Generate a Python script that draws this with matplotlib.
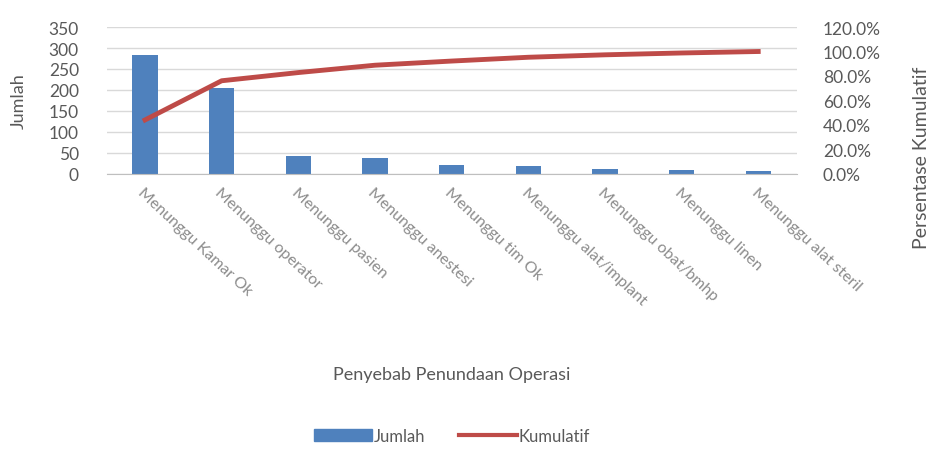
import matplotlib.pyplot as plt
from matplotlib.ticker import FuncFormatter
from matplotlib.patches import Patch
from matplotlib.lines import Line2D

plt.rcParams['font.family'] = ['Lato', 'DejaVu Sans']

categories = ["Menunggu Kamar Ok", "Menunggu operator", "Menunggu pasien",
              "Menunggu anestesi", "Menunggu tim Ok", "Menunggu alat/implant",
              "Menunggu obat/bmhp", "Menunggu linen", "Menunggu alat steril"]
jumlah = [283, 205, 43, 38, 22, 20, 12, 10, 8]
kumulatif = [44.1, 76.1, 82.8, 88.8, 92.2, 95.3, 97.3, 98.8, 100.0]

bar_color = "#4F81BD"
line_color = "#BE4B48"
grey = "#595959"

fig = plt.figure(figsize=(9.36, 4.52), dpi=100)
ax = fig.add_axes([0.114, 0.613, 0.737, 0.325])
x = range(len(categories))
ax.bar(x, jumlah, width=0.33, color=bar_color, zorder=2)
ax.set_xlim(-0.5, len(categories) - 0.5)
ax.set_ylim(0, 350)
ax.set_yticks(range(0, 351, 50))
ax.grid(axis="y", color="#D9D9D9", linewidth=1, zorder=0)
for s in ["top", "right", "left"]:
    ax.spines[s].set_visible(False)
ax.spines["bottom"].set_color("#BFBFBF")
ax.tick_params(axis="both", length=0, colors=grey, labelsize=12.5)
ax.tick_params(axis="y", pad=20)
ax.set_xticks(list(x))
ax.set_xticklabels(categories, rotation=-43, ha="left", va="top",
                   rotation_mode="anchor", fontsize=11.5, color="#8C8C8C")
ax.tick_params(axis="x", pad=8)
ax.set_ylabel("Jumlah", fontsize=13, color=grey, labelpad=16)
ax.set_xlabel("Penyebab Penundaan Operasi", fontsize=13, color=grey, labelpad=42)

ax2 = ax.twinx()
ax2.plot(list(x), kumulatif, color=line_color, linewidth=3.5, zorder=3)
ax2.set_ylim(0, 120)
ax2.set_yticks(range(0, 121, 20))
ax2.yaxis.set_major_formatter(FuncFormatter(lambda v, p: f"{v:.1f}%"))
for s in ["top", "right", "left", "bottom"]:
    ax2.spines[s].set_visible(False)
ax2.tick_params(axis="y", length=0, colors=grey, labelsize=12.5, pad=19)

fig.text(0.985, 0.65, "Persentase Kumulatif", rotation=90, ha="center",
         va="center", fontsize=14, color=grey)

handles = [Patch(color=bar_color), Line2D([0], [0], color=line_color, linewidth=3)]
fig.legend(handles, ["Jumlah", "Kumulatif"], loc="center", bbox_to_anchor=(0.483, 0.033),
           ncol=2, frameon=False, fontsize=12, labelcolor=grey, handlelength=3.5,
           handletextpad=0.1, columnspacing=2)

fig.savefig("out.png", dpi=100)
